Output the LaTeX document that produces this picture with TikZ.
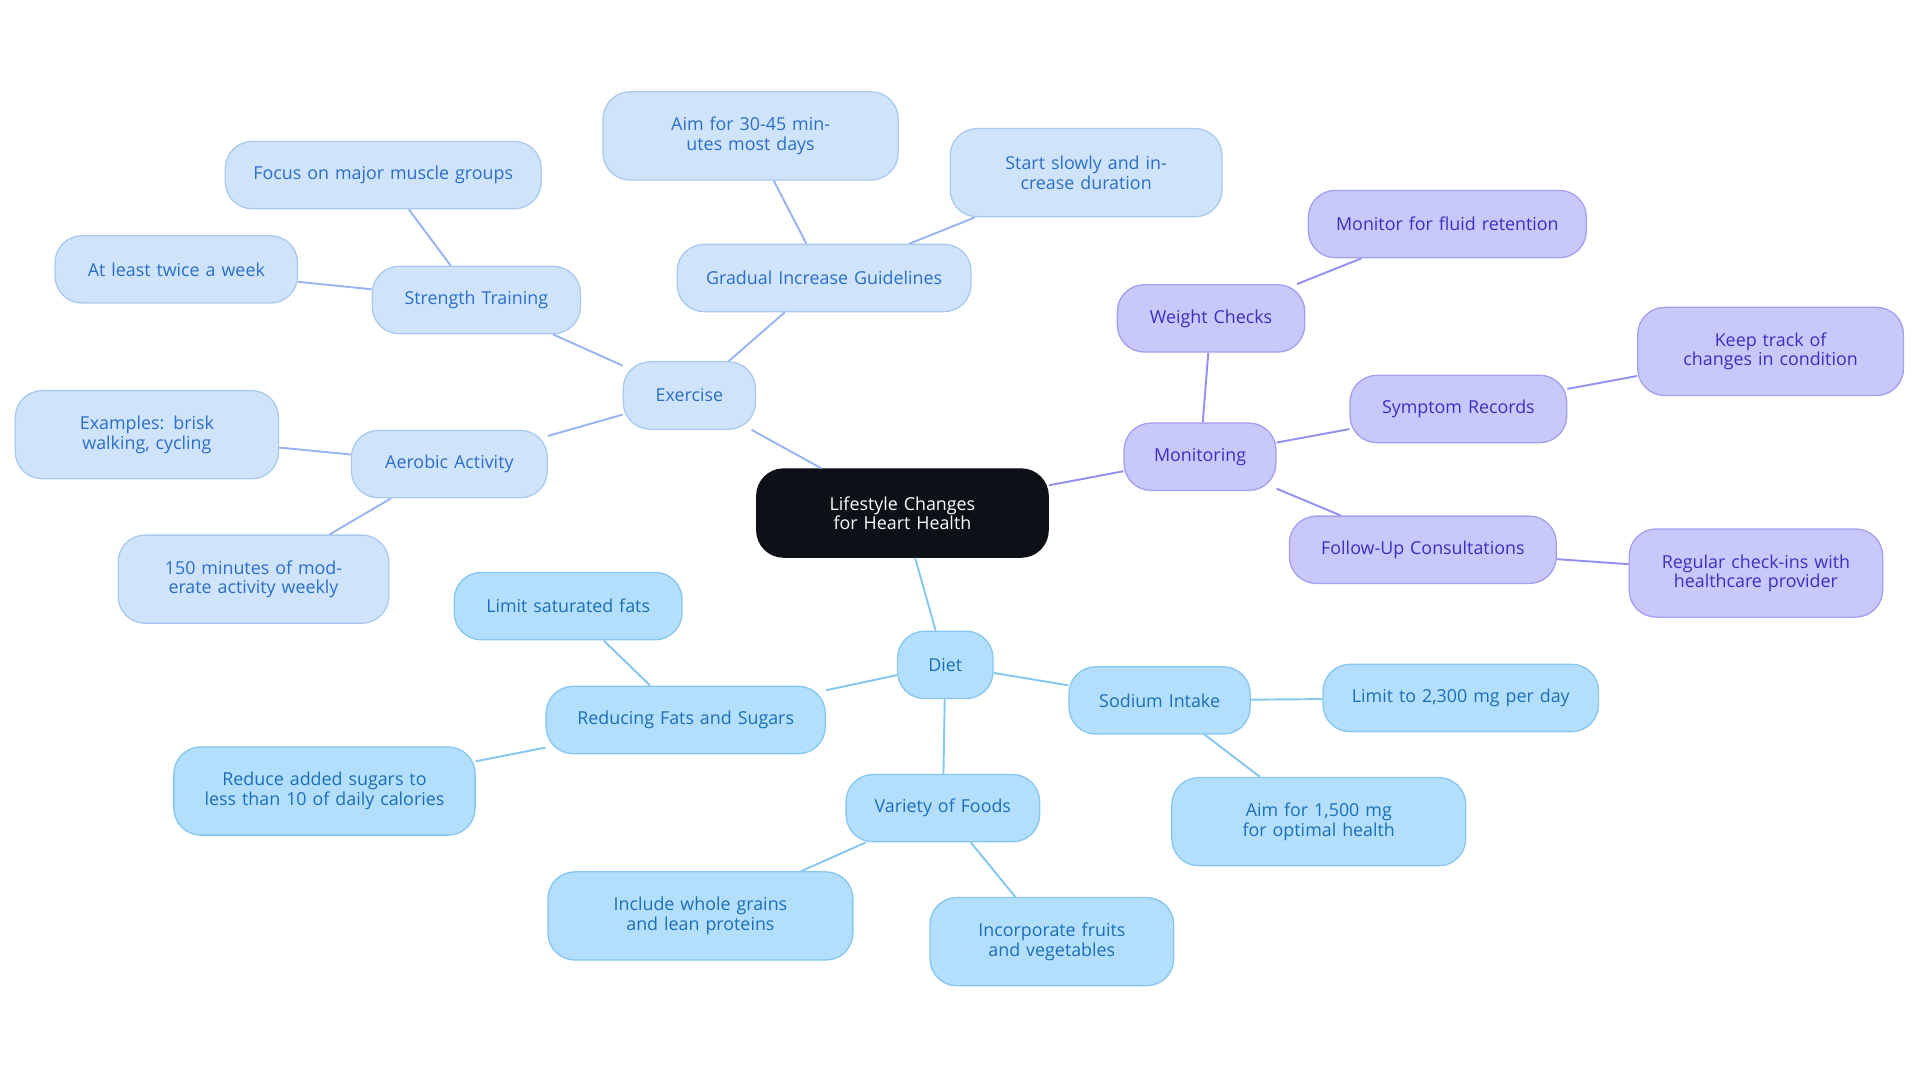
\documentclass[tikz,border=0pt]{standalone}
\usepackage{fontspec}
\setmainfont{Open Sans}
\begin{document}
\definecolor{exF}{HTML}{CFE3FB}\definecolor{exB}{HTML}{A9C9F0}\definecolor{exT}{HTML}{2A6FC9}
\definecolor{diF}{HTML}{B3DFFC}\definecolor{diB}{HTML}{86C6F0}\definecolor{diT}{HTML}{1A6FB8}
\definecolor{moF}{HTML}{C9C8FB}\definecolor{moB}{HTML}{A3A0F0}\definecolor{moT}{HTML}{3B2FC0}
\definecolor{ceF}{HTML}{0D1117}
\begin{tikzpicture}[x=0.02cm,y=-0.02cm,
 box/.style args={#1/#2}{draw,rounded corners=0.44cm,line width=0.6pt,inner sep=0pt,align=center,
   minimum width=#1*0.02cm,minimum height=#2*0.02cm,text width=(#1-30)*0.02cm,
   font=\fontsize{8.3}{9}\selectfont},
 ex/.style={box=#1,fill=exF,draw=exB,text=exT},
 di/.style={box=#1,fill=diF,draw=diB,text=diT},
 mo/.style={box=#1,fill=moF,draw=moB,text=moT},
 le/.style={draw=exB!90!blue,line width=0.9pt},
 ld/.style={draw=diB,line width=0.9pt},
 lm/.style={draw=moB!90!blue,line width=0.9pt}]
\useasboundingbox (0,0) rectangle (1568,885);
\node[box=238/72,fill=ceF,draw=ceF,text=white] (c) at (737,419) {Lifestyle Changes for Heart Health};
\node[ex=108/55] (e) at (563,323) {Exercise};
\node[ex=170/55] (st) at (389,245) {Strength Training};
\node[ex=258/55] (st1) at (313,143) {Focus on major muscle groups};
\node[ex=198/55] (st2) at (144,220) {At least twice a week};
\node[ex=160/55] (ae) at (367,379) {Aerobic Activity};
\node[ex=215/72] (ae1) at (120,355) {Examples: brisk walking, cycling};
\node[ex=221/72] (ae2) at (207,473) {150 minutes of moderate activity weekly};
\node[ex=240/55] (gi) at (673,227) {Gradual Increase Guidelines};
\node[ex=241/72] (gi1) at (613,111) {Aim for 30-45 minutes most days};
\node[ex=222/72] (gi2) at (887,141) {Start slowly and increase duration};
\node[mo=124/55] (m) at (980,373) {Monitoring};
\node[mo=153/55] (wc) at (989,260) {Weight Checks};
\node[mo=227/55] (wc1) at (1182,183) {Monitor for fluid retention};
\node[mo=177/55] (sr) at (1191,334) {Symptom Records};
\node[mo=217/72] (sr1) at (1446,287) {Keep track of changes in condition};
\node[mo=218/55] (fu) at (1162,449) {Follow-Up Consultations};
\node[mo=207/72] (fu1) at (1434,468) {Regular check-ins with healthcare provider};
\node[di=78/55] (d) at (772,543) {Diet};
\node[di=228/55] (rf) at (560,588) {Reducing Fats and Sugars};
\node[di=186/55] (rf1) at (464,495) {Limit saturated fats};
\node[di=246/72] (rf2) at (265,646) {Reduce added sugars to less than 10 of daily calories};
\node[di=148/55] (si) at (947,572) {Sodium Intake};
\node[di=225/55] (si1) at (1193,570) {Limit to 2,300 mg per day};
\node[di=240/72] (si2) at (1077,671) {Aim for 1,500 mg for optimal health};
\node[di=158/55] (vf) at (770,660) {Variety of Foods};
\node[di=249/72] (vf1) at (572,748) {Include whole grains and lean proteins};
\node[di=199/72] (vf2) at (859,769) {Incorporate fruits and vegetables};
\draw[le] (c)--(e); \draw[le] (e)--(st); \draw[le] (st)--(st1); \draw[le] (st)--(st2);
\draw[le] (e)--(ae); \draw[le] (ae)--(ae1); \draw[le] (ae)--(ae2);
\draw[le] (e)--(gi); \draw[le] (gi)--(gi1); \draw[le] (gi)--(gi2);
\draw[lm] (c)--(m); \draw[lm] (m)--(wc); \draw[lm] (wc)--(wc1); \draw[lm] (m)--(sr);
\draw[lm] (sr)--(sr1); \draw[lm] (m)--(fu); \draw[lm] (fu)--(fu1);
\draw[ld] (c)--(d); \draw[ld] (d)--(rf); \draw[ld] (rf)--(rf1); \draw[ld] (rf)--(rf2);
\draw[ld] (d)--(si); \draw[ld] (si)--(si1); \draw[ld] (si)--(si2);
\draw[ld] (d)--(vf); \draw[ld] (vf)--(vf1); \draw[ld] (vf)--(vf2);
\end{tikzpicture}
\end{document}
